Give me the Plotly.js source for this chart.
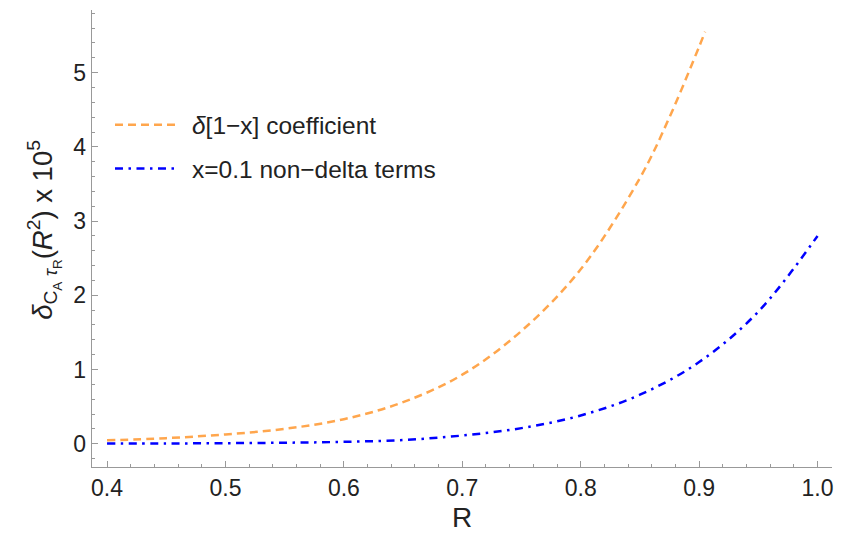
<!DOCTYPE html>
<html>
<head>
<meta charset="utf-8">
<script src="https://cdn.plot.ly/plotly-3.0.1.min.js"></script>
<style>html,body{margin:0;padding:0;background:#fff;}#chart{width:862px;height:533px;}</style>
</head>
<body>
<div id="chart"></div>
<script>
// Orange dashed: delta[1-x] coefficient (x 10^5)
const rDelta   = [0.40, 0.45, 0.50, 0.55, 0.60, 0.65, 0.70, 0.75, 0.80, 0.85, 0.875, 0.90, 0.905];
const yDelta   = [0.045, 0.075, 0.125, 0.20, 0.33, 0.56, 0.93, 1.52, 2.35, 3.58, 4.40, 5.35, 5.55];
// Blue dash-dot: x=0.1 non-delta terms
const rNonDelta = [0.40, 0.45, 0.50, 0.55, 0.60, 0.65, 0.70, 0.75, 0.80, 0.85, 0.90, 0.95, 1.00];
const yNonDelta = [0.001, 0.003, 0.007, 0.013, 0.025, 0.05, 0.11, 0.21, 0.38, 0.66, 1.10, 1.78, 2.80];

const seriesNames = ["<i>δ</i>[1−x] coefficient", "x=0.1 non−delta terms"];
const xTicks = [0.4, 0.5, 0.6, 0.7, 0.8, 0.9, 1.0];
const xTickText = ["0.4", "0.5", "0.6", "0.7", "0.8", "0.9", "1.0"];
const yTicks = [0, 1, 2, 3, 4, 5];
const xTitle = "R";
const yTitle = "<i>δ</i><sub>C<sub>A</sub> <i>τ</i><sub>R</sub></sub>(<i>R</i><sup>2</sup>) x 10<sup>5</sup>";

const font = "Arial, 'Liberation Sans', sans-serif";

const traces = [
  {x: rDelta, y: yDelta, name: seriesNames[0], mode: "lines", legendgroup: "a",
   line: {color: "#FFA64D", width: 2.5, dash: "8px,5px", shape: "spline"}},
  {x: rNonDelta, y: yNonDelta, name: seriesNames[1], mode: "lines", legendgroup: "b",
   line: {color: "#0000FF", width: 2.5, dash: "8px,5.5px,2.5px,5.5px", shape: "spline"}}
];

const axisCommon = {
  showline: true, linecolor: "#999", linewidth: 1.3,
  ticks: "inside", tickcolor: "#999", ticklen: 6, tickwidth: 1,
  showgrid: false, zeroline: false, mirror: false,
  tickfont: {family: font, size: 23, color: "#222"}
};

const layout = {
  width: 862, height: 533,
  margin: {l: 92, r: 30, t: 10, b: 66},
  paper_bgcolor: "#fff", plot_bgcolor: "#fff",
  showlegend: true,
  legend: {x: 0.0243, y: 0.798, xanchor: "left", yanchor: "top", traceorder: "grouped",
           font: {family: font, size: 24.5, color: "#222"},
           bgcolor: "rgba(0,0,0,0)", tracegroupgap: 9, itemwidth: 72},
  xaxis: Object.assign({}, axisCommon, {
    range: [0.3873, 1.0122], tickvals: xTicks, ticktext: xTickText,
    minor: {dtick: 0.02, tick0: 0.4, ticks: "inside", ticklen: 3, tickcolor: "#999"},
    title: {text: xTitle, font: {family: font, size: 28, color: "#222"}, standoff: 15}
  }),
  yaxis: Object.assign({}, axisCommon, {
    range: [-0.314, 5.844], tickvals: yTicks,
    minor: {dtick: 0.2, tick0: 0, ticks: "inside", ticklen: 3, tickcolor: "#999"}
  }),
  annotations: [{
    text: yTitle, textangle: -90, xref: "paper", yref: "paper",
    x: 0, y: 0.519, xshift: -48, xanchor: "center", yanchor: "middle",
    showarrow: false, font: {family: font, size: 27.5, color: "#222"}
  }]
};

Plotly.newPlot("chart", traces, layout, {displayModeBar: false, staticPlot: true}).then(function () {
  // lengthen the legend line samples to match the reference (60px)
  document.querySelectorAll(".legend .legendlines path").forEach(function (p) {
    p.setAttribute("d", "M5,0h60");
  });
});
</script>
</body>
</html>
